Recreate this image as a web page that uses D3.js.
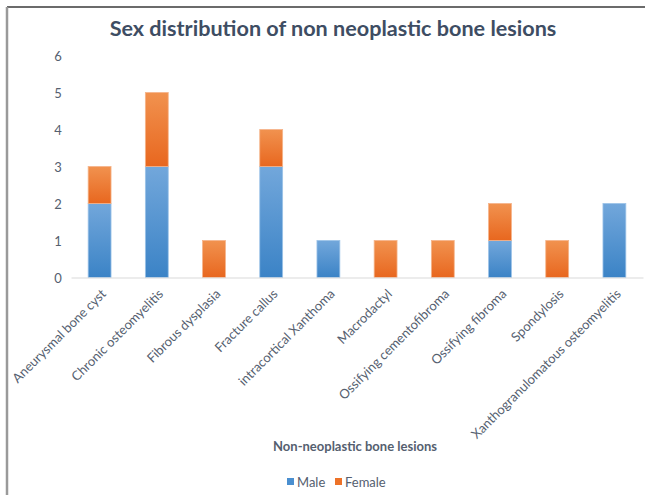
<!DOCTYPE html>
<html>
<head>
<meta charset="utf-8">
<script src="https://cdn.jsdelivr.net/npm/d3@7"></script>
<style>
  html, body { margin: 0; padding: 0; background: #fff; }
  svg { display: block; }
</style>
</head>
<body>
<svg id="chart" width="645" height="495"></svg>
<script>
const categories = ["Aneurysmal bone cyst", "Chronic osteomyelitis", "Fibrous dysplasia", "Fracture callus",
  "intracortical Xanthoma", "Macrodactyl", "Ossifying cementofibroma", "Ossifying fibroma",
  "Spondylosis", "Xanthogranulomatous osteomyelitis"];
const male = [2, 3, 0, 3, 1, 0, 0, 1, 0, 2];
const female = [1, 2, 1, 1, 0, 1, 1, 1, 1, 0];
const seriesNames = ["Male", "Female"];
const yTicks = [0, 1, 2, 3, 4, 5, 6];

const svg = d3.select("#chart");
const font = "Lato, 'Open Sans', sans-serif";
const textCol = "#55606f";

// frame
svg.append("line").attr("x1", 7).attr("x2", 645).attr("y1", 7).attr("y2", 7)
  .attr("stroke", "#3a3a3a").attr("stroke-width", 1.5);
svg.append("line").attr("x1", 7).attr("x2", 7).attr("y1", 7).attr("y2", 495)
  .attr("stroke", "#9a9a9a").attr("stroke-width", 2.5);

const defs = svg.append("defs");
function grad(id, top, bottom) {
  const g = defs.append("linearGradient").attr("id", id).attr("x1", 0).attr("y1", 0).attr("x2", 0).attr("y2", 1);
  g.append("stop").attr("offset", "0%").attr("stop-color", top);
  g.append("stop").attr("offset", "100%").attr("stop-color", bottom);
}
grad("gMale", "#72a7db", "#3b83c6");
grad("gFemale", "#f1924f", "#e8671f");

const x = d3.scaleBand().domain(categories).range([71, 643]).paddingInner(0.6).paddingOuter(0.3);
const y = d3.scaleLinear().domain([0, 6]).range([277.5, 55.5]);

// title
svg.append("text").attr("x", 333).attr("y", 36).attr("text-anchor", "middle")
  .attr("font-family", font).attr("font-weight", "bold").attr("font-size", 21.6)
  .attr("fill", "#3e4d63").text("Sex distribution of non neoplastic bone lesions");

// y axis labels
const yAxis = d3.axisLeft(y).tickValues(yTicks).tickFormat(d3.format("d")).tickSize(0).tickPadding(0);
const ya = svg.append("g").attr("transform", "translate(58,0)").call(yAxis);
ya.select(".domain").remove();
ya.selectAll("text").attr("font-family", font).attr("font-size", 13).attr("fill", textCol)
  .attr("text-anchor", "middle").attr("dy", "0.35em");

// stacked data
const rows = categories.map((c, i) => ({ cat: c, Male: male[i], Female: female[i] }));
const stack = d3.stack().keys(seriesNames)(rows);
const fills = { Male: "url(#gMale)", Female: "url(#gFemale)" };
const strokes = { Male: "#9cc3e8", Female: "#f5b48a" };

svg.append("g").selectAll("g").data(stack).join("g")
  .selectAll("rect").data(s => s.map(d => ({ key: s.key, d })).filter(o => o.d[1] > o.d[0]))
  .join("rect")
  .attr("x", o => x(o.d.data.cat))
  .attr("width", x.bandwidth())
  .attr("y", o => y(o.d[1]))
  .attr("height", o => y(o.d[0]) - y(o.d[1]))
  .attr("fill", o => fills[o.key])
  .attr("stroke", o => strokes[o.key]).attr("stroke-width", 0.8);

// x axis
const xAxis = d3.axisBottom(x).tickSize(0).tickPadding(0);
const xa = svg.append("g").attr("transform", "translate(0,277.5)").call(xAxis);
xa.select(".domain").attr("stroke", "#d9d9d9").attr("stroke-width", 1.2);
xa.selectAll("text").attr("font-family", font).attr("font-size", 13).attr("fill", textCol)
  .attr("text-anchor", "end").attr("dy", "0.35em")
  .attr("transform", "translate(4,14) rotate(-45)");

// x axis title
svg.append("text").attr("x", 355).attr("y", 451).attr("text-anchor", "middle")
  .attr("font-family", font).attr("font-weight", "bold").attr("font-size", 13)
  .attr("fill", textCol).text("Non-neoplastic bone lesions");

// legend
const legend = svg.append("g").attr("transform", "translate(287,478)");
const legCols = { Male: "#4a8fd0", Female: "#ed7228" };
const legX = [0, 48];
seriesNames.forEach((n, i) => {
  const g = legend.append("g").attr("transform", `translate(${legX[i]},0)`);
  g.append("rect").attr("x", 0).attr("y", 0).attr("width", 7).attr("height", 7).attr("fill", legCols[n]);
  g.append("text").attr("x", 10).attr("y", 4).attr("dy", "0.35em")
    .attr("font-family", font).attr("font-size", 13).attr("fill", textCol).text(n);
});
</script>
</body>
</html>
